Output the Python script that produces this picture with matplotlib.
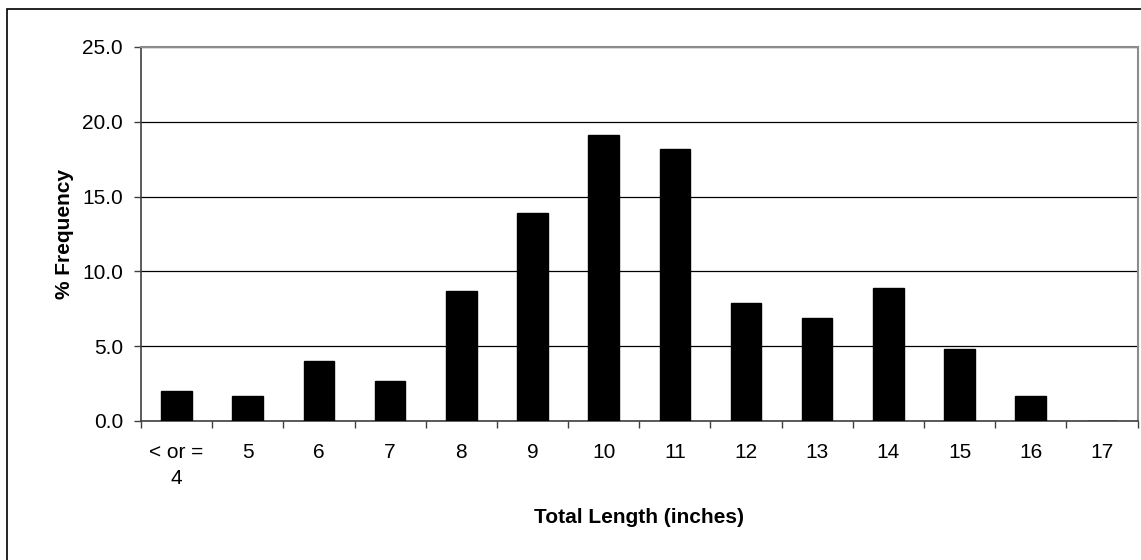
import numpy as np
import matplotlib.pyplot as plt
from matplotlib.patches import Rectangle

plt.rcParams['font.family'] = ['Liberation Sans', 'DejaVu Sans']

# length classes and percent frequency
length_labels = ['< or =\n4', '5', '6', '7', '8', '9', '10', '11', '12',
                 '13', '14', '15', '16', '17']
pct_freq = [2.0, 1.7, 4.0, 2.7, 8.7, 13.9, 19.1, 18.2, 7.9, 6.9, 8.9, 4.8, 1.7, 0.0]
y_ticks = [0, 5, 10, 15, 20, 25]

FS = 15
W, H = 1141, 560
fig = plt.figure(figsize=(W / 100, H / 100), dpi=100)
ax = fig.add_axes([141 / W, 1 - 421 / H, (1137.5 - 141) / W, (421 - 47) / H])

x = np.arange(len(length_labels))
ax.bar(x, pct_freq, width=0.43, color='black', edgecolor='black', zorder=3)

ax.set_xlim(-0.5, len(length_labels) - 0.5)
ax.set_ylim(0, 25)
ax.set_yticks(y_ticks)
ax.set_yticklabels([f'{v:.1f}' for v in y_ticks], fontsize=FS)
ax.yaxis.grid(True, color='black', linewidth=0.9, zorder=1)

# category labels in the middle, tick marks on the boundaries
ax.set_xticks(x)
ax.set_xticklabels(length_labels, fontsize=FS, linespacing=1.48)
ax.tick_params(axis='x', which='major', length=0, pad=16)
ax.set_xticks(np.arange(len(length_labels) + 1) - 0.5, minor=True)
ax.tick_params(axis='x', which='minor', length=5, width=1, color='#404040')
ax.tick_params(axis='y', length=5, width=1, color='#404040', pad=8)

for side in ['top', 'right']:
    ax.spines[side].set_color('#8c8c8c')
    ax.spines[side].set_linewidth(1.5)
for side in ['left', 'bottom']:
    ax.spines[side].set_color('#404040')
    ax.spines[side].set_linewidth(1.2)

ax.set_ylabel('% Frequency', fontsize=FS, fontweight='bold', labelpad=6)
ax.set_xlabel('Total Length (inches)', fontsize=FS, fontweight='bold', labelpad=14)

# outer chart border
fig.patches.append(Rectangle((6.5 / W, -0.1), 1.2, 1.1 - 8.5 / H,
                             transform=fig.transFigure, fill=False,
                             edgecolor='black', linewidth=1.2))

fig.savefig('out.png', dpi=100)
